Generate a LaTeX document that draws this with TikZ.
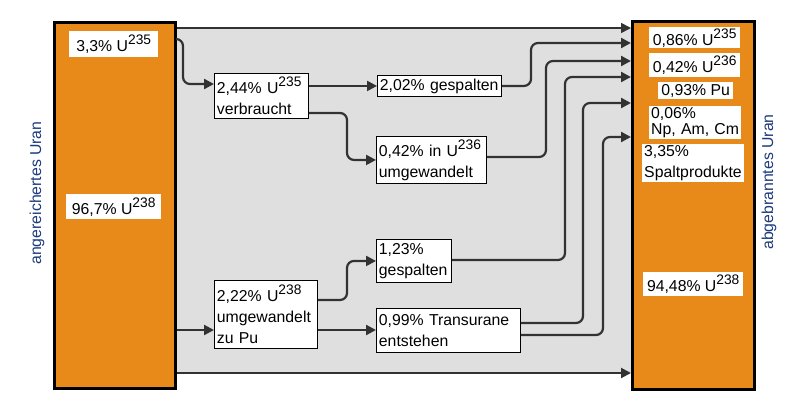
\documentclass[tikz,border=0pt]{standalone}
\usepackage{fontspec}
\setmainfont{Liberation Sans}
\usetikzlibrary{arrows.meta}
\definecolor{uorange}{RGB}{232,138,26}
\definecolor{bgray}{RGB}{223,223,223}
\definecolor{cdark}{RGB}{50,50,50}
\definecolor{ublue}{RGB}{28,58,125}
\newcommand\sps[1]{\raisebox{7pt}{\fontsize{13.8}{14}\selectfont #1}}
\tikzset{
  obox/.style={draw=black, line width=3pt, fill=uorange, anchor=north west, inner sep=0pt},
  mbox/.style={draw=black, line width=0.9pt, fill=white, anchor=north west, inner xsep=2.5pt, inner ysep=0pt, align=left, font=\fontsize{15.8}{21}\selectfont},
  lbl/.style={fill=white, anchor=north west, inner xsep=2pt, inner ysep=0pt, align=center, font=\fontsize{15.8}{21}\selectfont},
  conn/.style={draw=cdark, line width=2.2pt, rounded corners=7pt, -{Triangle[length=10pt,width=10pt]}},
  vlab/.style={rotate=90, text=ublue, font=\fontsize{15.8}{18}\selectfont}
}
\begin{document}
\begin{tikzpicture}[x=1pt,y=-1pt]
\useasboundingbox (0,0) rectangle (794,412);
% gray background
\fill[bgray] (174,28) rectangle (631,373);
% orange columns
\node[obox, minimum width=121, minimum height=366] (lbox) at (53,21) {};
\node[obox, minimum width=122, minimum height=368] (rbox) at (631,20) {};
% side labels
\node[vlab] (lv) at (37,193) {angereichertes Uran};
\node[vlab] (rv) at (769,182) {abgebranntes Uran};
% labels in left column
\node[lbl, minimum width=89, minimum height=26] (l33) at (69,31) {3,3\% U\sps{235}};
\node[lbl, minimum width=95, minimum height=25] (l967) at (66,194) {96,7\% U\sps{238}};
% labels in right column
\node[lbl, minimum width=91, minimum height=21] (r086) at (649,27) {0,86\% U\sps{235}};
\node[lbl, minimum width=91, minimum height=24] (r042) at (649,53) {0,42\% U\sps{236}};
\node[lbl, minimum width=75, minimum height=17] (r093) at (658,82) {0,93\% Pu};
\node[lbl, align=left, text width=88, minimum height=33, font=\fontsize{15.8}{16}\selectfont] (r006) at (649,106) {0,06\%\\Np, Am, Cm};
\node[lbl, align=left, text width=98, minimum height=38] (r335) at (642,144) {3,35\%\\Spaltprodukte};
\node[lbl, minimum width=100, minimum height=24] (r9448) at (643,272) {94,48\% U\sps{238}};
% middle boxes
\node[mbox, text width=89, minimum height=45] (b244) at (214,73) {2,44\% U\sps{235}\\verbraucht};
\node[mbox, text width=119, minimum height=21] (b202) at (377,75) {2,02\% gespalten};
\node[mbox, text width=105, minimum height=47] (b042) at (376,136) {0,42\% in U\sps{236}\\umgewandelt};
\node[mbox, text width=98, minimum height=68] (b222) at (214,280) {2,22\% U\sps{238}\\umgewandelt\\zu Pu};
\node[mbox, text width=70, minimum height=43] (b123) at (376,239) {1,23\%\\gespalten};
\node[mbox, text width=139, minimum height=44] (b099) at (376,308) {0,99\% Transurane\\entstehen};
% connectors
\draw[conn, line width=1.6pt] (lbox.east |- 0,28) -- (rbox.west |- 0,28);
\draw[conn, line width=2pt] (lbox.east |- 0,373) -- (rbox.west |- 0,373);
\draw[conn] (lbox.east |- 0,39) -- (183,39) -- (183,84) -- (b244.west |- 0,84);
\draw[conn] (b244.east |- b202.west) -- (b202.west);
\draw[conn] (b244.east |- 0,113) -- (347,113) -- (347,0 |- b042.west) -- (b042.west);
\draw[conn] (b202.east) -- (531,0 |- b202.east) -- (531,43) -- (rbox.west |- 0,43);
\draw[conn] (b042.east |- 0,157) -- (546,157) -- (546,61) -- (rbox.west |- 0,61);
\draw[conn] (b123.east |- 0,260) -- (565,260) -- (565,77) -- (rbox.west |- 0,77);
\draw[conn] (b099.east |- 0,323) -- (583,323) -- (583,103) -- (rbox.west |- 0,103);
\draw[conn] (b099.east |- 0,335) -- (603,335) -- (603,137) -- (rbox.west |- 0,137);
\draw[conn] (lbox.east |- 0,330) -- (b222.west |- 0,330);
\draw[conn] (b222.east |- 0,300) -- (347,300) -- (347,0 |- b123.west) -- (b123.west);
\draw[conn] (b222.east |- 0,330) -- (b099.west |- 0,330);
\end{tikzpicture}
\end{document}
